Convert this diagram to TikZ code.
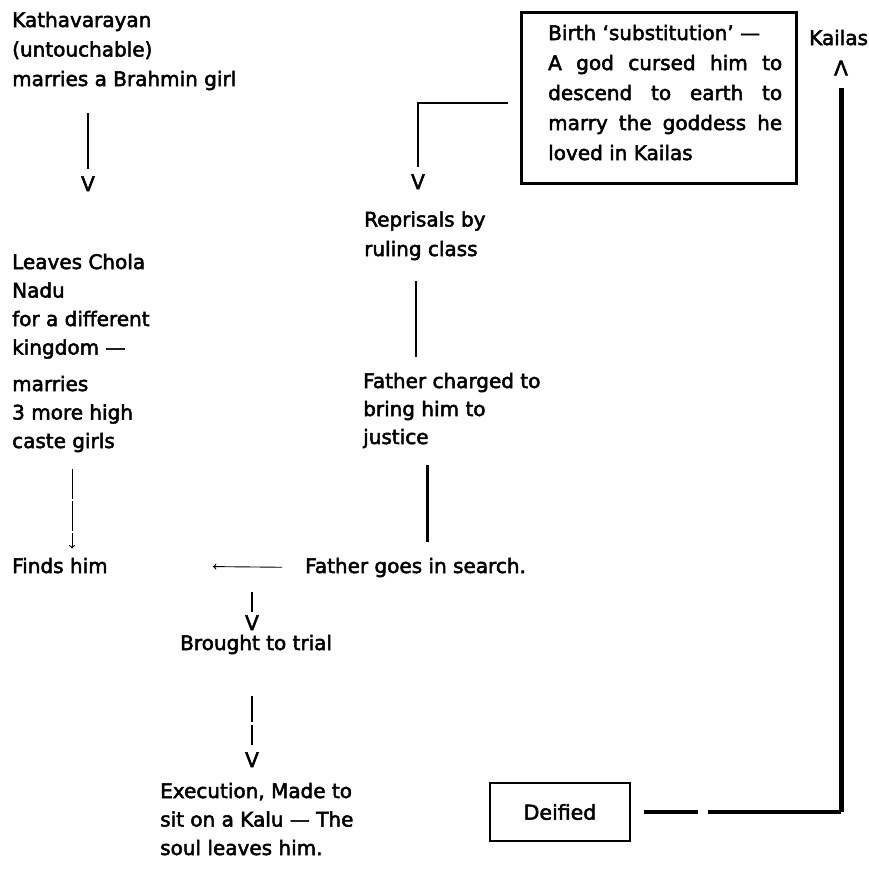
\documentclass[tikz,border=0pt]{standalone}
\usepackage{fontspec}
\setmainfont[RawFeature={embolden=2.5}]{DejaVu Sans}
\usetikzlibrary{arrows.meta}
\begin{document}
\begin{tikzpicture}[x=1pt,y=-1pt,
  every node/.style={inner sep=0pt, font=\fontsize{20}{29.5}\selectfont},
  txt/.style={anchor=base west, align=left},
  vmark/.style={anchor=base},
  frame/.style={draw, line width=2.8pt},
  fine/.style={line width=0.9pt, -{To[length=3.5pt,width=6pt]}},
  stem/.style={line width=#1},
]
\useasboundingbox (0,0) rectangle (869,873);

% ---- left column (multi-line nodes are placed by their last baseline)
\node[txt] (kath) at (12,86) {Kathavarayan\\(untouchable)\\marries a Brahmin girl};
\node[vmark] (v1) at (88,191) {V};
\draw[stem=2pt, shorten <=23pt, shorten >=7pt] (v1.north |- kath.south) -- (v1.north);

\node[txt, font=\fontsize{20}{28.5}\selectfont] (leaves) at (12,448)
  {Leaves Chola\\Nadu\\for a different\\kingdom —\\[8pt]marries\\3 more high\\caste girls};
\node[txt] (finds) at (12,573) {Finds him};
\coordinate (l1) at ([xshift=60pt]leaves.south west);
\draw[fine, dash pattern=on 30pt off 2pt, shorten <=17pt, shorten >=9pt] (l1) -- (l1 |- finds.north);

% ---- middle column
\node[txt] (search) at (305,573) {Father goes in search.};
\draw[fine, shorten <=23pt, shorten >=105pt] (search.west) -- (finds.east);

\node[txt] (repr) at (364,256) {Reprisals by\\ruling class};
\node[vmark] (v2) at (418,189) {V};

\node[txt, font=\fontsize{20}{28}\selectfont] (charged) at (363,444)
  {Father charged to\\bring him to\\justice};
\coordinate (m1) at ([xshift=-9pt]repr.south);
\draw[stem=2.5pt, shorten <=21pt, shorten >=16pt] (m1) -- (m1 |- charged.north);
\coordinate (m2) at ([xshift=12pt]search.north);
\draw[stem=3pt, shorten <=17pt, shorten >=16pt] (m2 |- charged.south) -- (m2);

\node[vmark] (v3) at (252,630) {V};
\draw[stem=1.3pt, shorten <=15pt, shorten >=3.6pt] (v3 |- search.south) -- (v3.north);

\node[txt] (trial) at (180,650) {Brought to trial};
\node[vmark] (v4) at (252,767) {V};
\draw[stem=1.2pt, dash pattern=on 26pt off 3pt, shorten <=42pt, shorten >=7.6pt]
  (v4 |- trial.south) -- (v4.north);

\node[txt, font=\fontsize{20}{28.5}\selectfont] (exec) at (160,855)
  {Execution, Made to\\sit on a Kalu — The\\soul leaves him.};

% ---- right side
\node[frame, minimum width=275pt, minimum height=171pt, anchor=north west] (birth) at (520,11) {};
\node[txt, font=\fontsize{20}{30}\selectfont] (btext) at (548,160)
  {Birth ‘substitution’ —\\
   \makebox[234pt][s]{A god cursed him to}\\
   \makebox[234pt][s]{descend to earth to}\\
   \makebox[234pt][s]{marry the goddess he}\\
   loved in Kailas};
\draw[stem=2.5pt, shorten <=12pt, shorten >=7.6pt] ([yshift=-5pt]birth.west) -| (v2.north);

\node[txt] (kailas) at (809,45) {Kailas};
\node (lam) at (841,68) {Λ};

\node[frame, minimum width=140pt, minimum height=58pt, font=\fontsize{20.5}{24}\selectfont]
  (deified) at (560,812) {Deified};
\coordinate (corner) at (lam.south |- deified.east);
\draw[stem=3.5pt, dash pattern=on 54pt off 10pt on 400pt, shorten <=13pt] (deified.east) -- (corner);
\draw[stem=5pt, shorten >=13pt] (corner) -- (lam.south);
\end{tikzpicture}
\end{document}
